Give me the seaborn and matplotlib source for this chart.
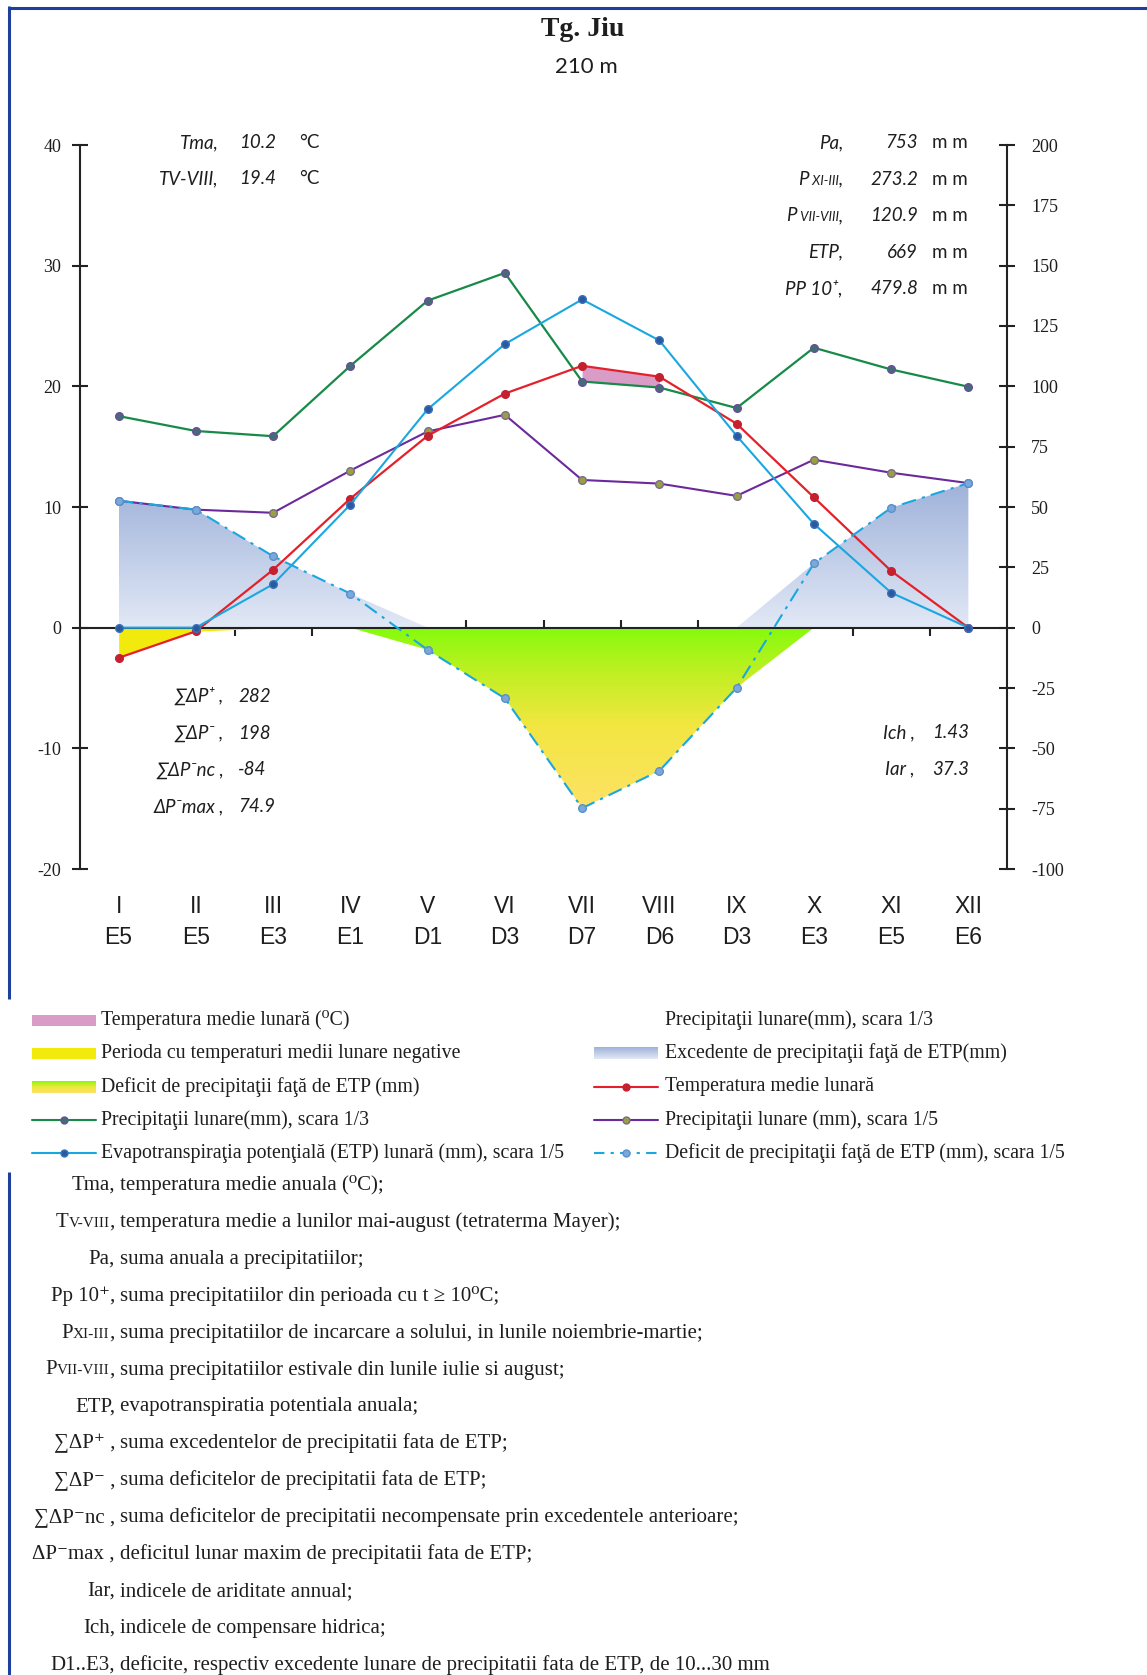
import numpy as np
import pandas as pd
import seaborn as sns
import matplotlib
matplotlib.use('Agg')
import matplotlib.pyplot as plt
from matplotlib.colors import LinearSegmentedColormap
from matplotlib.patches import Rectangle

# ---------- date climatice Tg. Jiu ----------
luni = ['I', 'II', 'III', 'IV', 'V', 'VI', 'VII', 'VIII', 'IX', 'X', 'XI', 'XII']
clase = ['E5', 'E5', 'E3', 'E1', 'D1', 'D3', 'D7', 'D6', 'D3', 'E3', 'E5', 'E6']
temp = [-2.5, -0.3, 4.8, 10.7, 15.9, 19.4, 21.7, 20.8, 16.9, 10.8, 4.7, 0.0]
prec = [52.6, 48.9, 47.6, 65.1, 81.3, 88.2, 61.2, 59.7, 54.6, 69.6, 64.2, 59.9]
etp = [0.0, 0.0, 18.0, 51.0, 90.5, 117.5, 136.0, 119.0, 79.5, 43.0, 14.5, 0.0]

# indici afisati pe grafic
ind_temp = [('Tma,', '10.2'), ('TV-VIII,', '19.4')]
ind_prec = [([('Pa,', 13.5)], '753'),
            ([('P', 13.5), (' XI-III', 9.5), (',', 13.5)], '273.2'),
            ([('P', 13.5), (' VII-VIII', 9.5), (',', 13.5)], '120.9'),
            ([('ETP,', 13.5)], '669'),
            ([('PP 10⁺,', 13.5)], '479.8')]
ind_bil = [('∑ΔP⁺ ,', '282'), ('∑ΔP⁻ ,', '198'), ('∑ΔP⁻nc ,', '-84'), ('ΔP⁻max ,', '74.9')]
ind_ar = [('Ich ,', '1.43'), ('Iar ,', '37.3')]

definitii = [
    ([('Tma,', 15)], 'temperatura medie anuala (⁰C);'),
    ([('T', 15), ('V-VIII', 11), (',', 15)], 'temperatura medie a lunilor mai-august (tetraterma Mayer);'),
    ([('Pa,', 15)], 'suma anuala a precipitatiilor;'),
    ([('Pp 10⁺,', 15)], 'suma precipitatiilor din perioada cu t ≥ 10⁰C;'),
    ([('P', 15), ('XI-III', 11), (',', 15)], 'suma precipitatiilor de incarcare a solului, in lunile noiembrie-martie;'),
    ([('P', 15), ('VII-VIII', 11), (',', 15)], 'suma precipitatiilor estivale din lunile iulie si august;'),
    ([('ETP,', 15)], 'evapotranspiratia potentiala anuala;'),
    ([('∑ΔP⁺ ,', 15)], 'suma excedentelor de precipitatii fata de ETP;'),
    ([('∑ΔP⁻ ,', 15)], 'suma deficitelor de precipitatii fata de ETP;'),
    ([('∑ΔP⁻nc ,', 15)], 'suma deficitelor de precipitatii necompensate prin excedentele anterioare;'),
    ([('ΔP⁻max ,', 15)], 'deficitul lunar maxim de precipitatii fata de ETP;'),
    ([('Iar,', 15)], 'indicele de ariditate annual;'),
    ([('Ich,', 15)], 'indicele de compensare hidrica;'),
    ([('D1..E3,', 15)], 'deficite, respectiv excedente lunare de precipitatii fata de ETP, de 10...30 mm'),
]

df = pd.DataFrame({'luna': np.arange(12), 'temp': temp, 'prec': prec, 'etp': etp})
df['p3'] = df['prec'] / 3
df['p5'] = df['prec'] / 5
df['etp5'] = df['etp'] / 5
df['dp5'] = (df['prec'] - df['etp']) / 5

# culori
C_GREEN = '#178a48'
C_PURPLE = '#6b2a9c'
C_RED = '#e4202b'
C_BLUE = '#1aa7e0'
C_PINK = '#d99cc7'
C_YELLOW = '#f2ea0c'
C_BORDER = '#1f3f9c'
C_TXT = '#1e1e1e'
cmap_exc = LinearSegmentedColormap.from_list('exc', ['#e2e9f6', '#9fb2da'])
cmap_def = LinearSegmentedColormap.from_list(
    'def', [(0, '#fde266'), (0.45, '#f3e642'), (0.75, '#c0f022'), (1, '#84fb0c')])

sns.set_style('white')
plt.rcParams['font.family'] = ['Liberation Serif', 'DejaVu Serif']
plt.rcParams['axes.unicode_minus'] = False

W, H = 1147, 1675
fig = plt.figure(figsize=(W / 100, H / 100), dpi=100)
ax = fig.add_axes([80 / W, 1 - 869 / H, 927 / W, 724 / H])


def fill_gradient(ax, x, y1, y2, cmap, vmin, vmax):
    poly = ax.fill_between(x, y1, y2, facecolor='none', edgecolor='none')
    grad = np.linspace(0, 1, 256).reshape(-1, 1)
    im = ax.imshow(grad, extent=[x.min(), x.max(), vmin, vmax], origin='lower',
                   aspect='auto', cmap=cmap, zorder=1)
    im.set_clip_path(poly.get_paths()[0], transform=ax.transData)


x = df['luna'].to_numpy(float)
dp = df['dp5'].to_numpy()
pos = np.clip(dp, 0, None)
neg = np.clip(dp, None, 0)
fill_gradient(ax, x, 0, pos, cmap_exc, 0, pos.max())
fill_gradient(ax, x, neg, 0, cmap_def, neg.min(), 0)
t = df['temp'].to_numpy()
p3 = df['p3'].to_numpy()
ax.fill_between(x, np.clip(t, None, 0), 0, color=C_YELLOW, lw=0, zorder=1)
ax.fill_between(x, p3, t, where=t > p3, color=C_PINK, lw=0, zorder=1)

# linii
kw = dict(ax=ax, marker='o', markersize=5.5, markeredgewidth=1.0, zorder=4, legend=False)
sns.lineplot(data=df, x='luna', y='p5', color=C_PURPLE, linewidth=1.5,
             markerfacecolor='#9aa040', markeredgecolor='#7a6a90', **kw)
sns.lineplot(data=df, x='luna', y='p3', color=C_GREEN, linewidth=1.6,
             markerfacecolor='#3f6e74', markeredgecolor='#6e4c9a', **kw)
sns.lineplot(data=df, x='luna', y='temp', color=C_RED, linewidth=1.6,
             markerfacecolor='#c42030', markeredgecolor='#c42030', **kw)
sns.lineplot(data=df, x='luna', y='etp5', color=C_BLUE, linewidth=1.5,
             markerfacecolor='#2a5a9e', markeredgecolor='#3a72bc', **kw)
sns.lineplot(data=df, x='luna', y='dp5', color=C_BLUE, linewidth=1.5,
             linestyle=(0, (7, 3, 1.5, 3)),
             markerfacecolor='#7aa8d8', markeredgecolor='#5a90cc', **kw)

ax.set_xlabel('')
ax.set_ylabel('')
ax.set_xlim(-0.5, 11.5)
ax.set_ylim(-20, 40)
ax.set_yticks(np.arange(-20, 41, 10))
ax.set_xticks(np.arange(0.5, 11, 1))
for s in ['top', 'right']:
    ax.spines[s].set_visible(False)
ax.spines['bottom'].set_position(('data', 0))
for s in ['bottom', 'left']:
    ax.spines[s].set_color('#222222')
    ax.spines[s].set_linewidth(1.5)
ax.tick_params(axis='x', bottom=True, direction='inout', length=11, width=1.5,
               color='#222222', labelbottom=False)
ax.tick_params(axis='y', left=True, direction='inout', length=11, width=1.5,
               color='#222222', labelsize=13, labelcolor=C_TXT, pad=8)

ax2 = ax.twinx()
ax2.set_ylim(-100, 200)
ax2.set_yticks(np.arange(-100, 201, 25))
for s in ['top', 'bottom', 'left']:
    ax2.spines[s].set_visible(False)
ax2.spines['right'].set_color('#222222')
ax2.spines['right'].set_linewidth(1.5)
ax2.tick_params(axis='y', right=True, direction='inout', length=11, width=1.5,
                color='#222222', labelsize=13, labelcolor=C_TXT, pad=12)

sec = ax.secondary_xaxis(0)
sec.set_xticks(range(12), labels=[f'{l}\n{c}' for l, c in zip(luni, clase)],
               fontfamily='Liberation Sans', linespacing=1.45)
sec.tick_params(axis='x', length=0, pad=19, labelsize=16.5, labelcolor=C_TXT)
sec.spines['bottom'].set_visible(False)

# ---------- strat de suprapunere (coordonate in pixeli) ----------
ov = fig.add_axes([0, 0, 1, 1])
ov.set_xlim(0, W)
ov.set_ylim(H, 0)
ov.axis('off')
r = fig.canvas.get_renderer()

fig.text(0.508, 1 - 29 / H, 'Tg. Jiu', ha='center', va='center', fontsize=20,
         fontweight='bold', color=C_TXT)
fig.text(0.511, 1 - 67 / H, '210 m', ha='center', va='center', fontsize=16,
         family=['Lato', 'DejaVu Sans'], color=C_TXT)


def write_right(xr, y, segs, **kw):
    for txt, sz in reversed(segs):
        tt = ov.text(xr, y, txt, fontsize=sz, ha='right', va='baseline', **kw)
        xr -= tt.get_window_extent(renderer=r).width


it = dict(family=['Lato', 'DejaVu Sans'], style='italic', color=C_TXT)
for i, (lab, val) in enumerate(ind_temp):
    yb = 148 + i * 36
    ov.text(219, yb, lab, fontsize=13.5, ha='right', va='baseline', **it)
    ov.text(276, yb, val, fontsize=13.5, ha='right', va='baseline', **it)
    ov.text(299, yb, '°C', fontsize=13.5, ha='left', va='baseline',
            family=['Lato', 'DejaVu Sans'], color=C_TXT)
for i, (segs, val) in enumerate(ind_prec):
    yb = 148 + i * 36.6
    write_right(843, yb, segs, **it)
    ov.text(918, yb, val, fontsize=13.5, ha='right', va='baseline', **it)
    ov.text(932, yb, 'm m', fontsize=13.5, ha='left', va='baseline',
            family=['Lato', 'DejaVu Sans'], color=C_TXT)
for i, (lab, val) in enumerate(ind_bil):
    yb = 702 + i * 36.7
    ov.text(224, yb, lab, fontsize=13.5, ha='right', va='baseline', **it)
    ov.text(238, yb, val, fontsize=13.5, ha='left', va='baseline', **it)
for i, (lab, val) in enumerate(ind_ar):
    yb = 738 + i * 36.7
    ov.text(915, yb, lab, fontsize=13.5, ha='right', va='baseline', **it)
    ov.text(932, yb, val, fontsize=13.5, ha='left', va='baseline', **it)

# ---------- legenda ----------
grad = np.linspace(0, 1, 64).reshape(-1, 1)


def leg_handle(x0, y, kind, spec):
    x1 = x0 + 64
    if kind == 'patch':
        ov.add_patch(Rectangle((x0, y - 5.5), 64, 11, color=spec, lw=0))
    elif kind == 'grad':
        ov.imshow(grad, extent=[x0, x1, y + 6, y - 6], origin='lower',
                  aspect='auto', cmap=spec)
    elif kind == 'line':
        ov.plot([x0, x1], [y, y], color=spec['color'], lw=1.5, ls=spec.get('ls', '-'))
        ov.plot([(x0 + x1) / 2], [y], marker='o', ms=5, color=spec['mfc'],
                mec=spec['mec'], mew=1)


leg_left = [('patch', C_PINK, 'Temperatura medie lunară (⁰C)'),
            ('patch', C_YELLOW, 'Perioda cu temperaturi medii lunare negative'),
            ('grad', cmap_def, 'Deficit de precipitaţii faţă de ETP (mm)'),
            ('line', dict(color=C_GREEN, mfc='#3f6e74', mec='#6e4c9a'),
             'Precipitaţii lunare(mm), scara 1/3'),
            ('line', dict(color=C_BLUE, mfc='#2a5a9e', mec='#3a72bc'),
             'Evapotranspiraţia potenţială (ETP) lunară (mm), scara 1/5')]
leg_right = [(None, None, 'Precipitaţii lunare(mm), scara 1/3'),
             ('grad', cmap_exc, 'Excedente de precipitaţii faţă de ETP(mm)'),
             ('line', dict(color=C_RED, mfc='#c42030', mec='#c42030'),
              'Temperatura medie lunară'),
             ('line', dict(color=C_PURPLE, mfc='#9aa040', mec='#7a6a90'),
              'Precipitaţii lunare (mm), scara 1/5'),
             ('line', dict(color=C_BLUE, mfc='#7aa8d8', mec='#5a90cc',
                           ls=(0, (5, 3, 1.5, 3))),
              'Deficit de precipitaţii faţă de ETP (mm), scara 1/5')]
for i in range(5):
    y = 1020 + i * 33.3
    for (kind, spec, txt), (hx, tx) in [(leg_left[i], (32, 101)), (leg_right[i], (594, 665))]:
        if kind is not None:
            leg_handle(hx, y, kind, spec)
        ov.text(tx, y, txt, fontsize=14.3, ha='left', va='center', color=C_TXT)

# ---------- definitii ----------
for i, (segs, txt) in enumerate(definitii):
    yb = 1190 + i * 36.9
    write_right(115, yb, segs, color=C_TXT)
    ov.text(120, yb, txt, fontsize=15, ha='left', va='baseline', color=C_TXT)

# chenar albastru
ov.plot([9, W], [7.5, 7.5], color=C_BORDER, lw=2.2, solid_capstyle='butt')
ov.plot([9, 9], [6.4, 999], color=C_BORDER, lw=2.2, solid_capstyle='butt')
ov.plot([9, 9], [1172, H], color=C_BORDER, lw=2.2, solid_capstyle='butt')
ov.set_xlim(0, W)
ov.set_ylim(H, 0)

fig.savefig('out.png', dpi=100)
